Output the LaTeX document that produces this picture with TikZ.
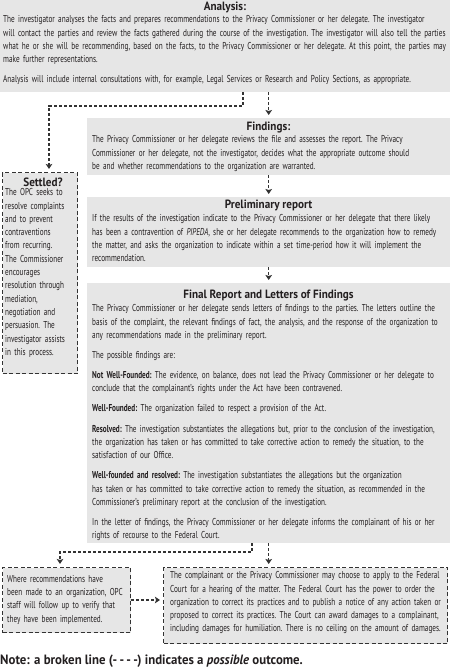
\documentclass[tikz,border=0pt]{standalone}
\usepackage{fontspec}
\setmainfont[FakeStretch=0.72]{PT Sans}
\newfontfamily\widef[FakeStretch=0.725]{PT Sans}
\newfontfamily\titlef[FakeStretch=0.93]{PT Sans}
\newfontfamily\notef[FakeStretch=0.95]{PT Sans}
\usetikzlibrary{arrows.meta,calc}
\definecolor{boxgray}{HTML}{E6E6E6}
\definecolor{ink}{HTML}{231F20}
\definecolor{dashc}{HTML}{333333}
\tikzset{
  gbox/.style={rectangle, fill=boxgray, draw=none, inner sep=0pt, anchor=north west},
  dbox/.style={gbox, draw=dashc, line width=1.1pt, dash pattern=on 4pt off 2.5pt},
  bodytxt/.style={anchor=north west, inner sep=0pt, text width=600pt, align=left, font=\frenchspacing\fontsize{10}{13.3}\selectfont, text=ink},
  widetxt/.style={bodytxt, font=\widef\frenchspacing\fontsize{10}{13.3}\selectfont},
  ttl/.style={anchor=base, inner sep=0pt, font=\titlef\bfseries\fontsize{12}{14}\selectfont, text=ink},
  conn/.style={draw=dashc, line width=1.1pt, dash pattern=on 3pt off 2pt},
  arr/.style={conn, -{Stealth[length=5pt,width=6.5pt,inset=1pt]}, shorten >=3pt},
}
\begin{document}
\begin{tikzpicture}[x=1pt,y=-1pt]
\useasboundingbox (0,0) rectangle (450,667);
% boxes
\node[gbox, minimum width=450pt, minimum height=92pt] (analysis) at (0,0) {};
\node[gbox, minimum width=363pt, minimum height=57pt] (findings) at (87,118) {};
\node[gbox, minimum width=363pt, minimum height=70pt] (prelim) at (87,197) {};
\node[gbox, minimum width=363pt, minimum height=260pt] (final) at (87,283) {};
\node[dbox, minimum width=75pt, minimum height=201pt] (settled) at (2,172) {};
\node[dbox, minimum width=128pt, minimum height=65pt] (leftb) at (2,567) {};
\node[dbox, minimum width=284pt, minimum height=76pt] (rightb) at (163,567) {};
% titles
\node[ttl] (tA) at (225,10) {Analysis:};
\node[ttl] (tF) at (268.5,130.5) {Findings:};
\node[ttl] (tP) at (268.5,208.5) {Preliminary report};
\node[ttl] (tR) at (268.5,298.5) {Final Report and Letters of Findings};
\node[ttl] (tS) at (43,186) {Settled?};
% bodies
\node[widetxt] (bA) at (3,13.2) {\strut The investigator analyses the facts and prepares recommendations to the Privacy Commissioner or her delegate. The investigator\\
will contact the parties and review the facts gathered during the course of the investigation. The investigator will also tell the parties\\
what he or she will be recommending, based on the facts, to the Privacy Commissioner or her delegate. At this point, the parties may\\
make further representations.\\[6.8pt]
Analysis will include internal consultations with, for example, Legal Services or Research and Policy Sections, as appropriate.};
\node[bodytxt] (bF) at (92,133.2) {\strut The Privacy Commissioner or her delegate reviews the file and assesses the report. The Privacy\\
Commissioner or her delegate, not the investigator, decides what the appropriate outcome should\\
be and whether recommendations to the organization are warranted.};
\node[bodytxt] (bP) at (92,212.2) {\strut If the results of the investigation indicate to the Privacy Commissioner or her delegate that there likely\\
has been a contravention of \textit{PIPEDA}, she or her delegate recommends to the organization how to remedy\\
the matter, and asks the organization to indicate within a set time-period how it will implement the\\
recommendation.};
\node[bodytxt] (bR) at (92,302.2) {\strut The Privacy Commissioner or her delegate sends letters of findings to the parties. The letters outline the\\
basis of the complaint, the relevant findings of fact, the analysis, and the response of the organization to\\
any recommendations made in the preliminary report.\\[6.8pt]
The possible findings are:\\[6.8pt]
\textbf{Not Well-Founded:} The evidence, on balance, does not lead the Privacy Commissioner or her delegate to\\
conclude that the complainant’s rights under the Act have been contravened.\\[6.8pt]
\textbf{Well-Founded:} The organization failed to respect a provision of the Act.\\[6.8pt]
\textbf{Resolved:} The investigation substantiates the allegations but, prior to the conclusion of the investigation,\\
the organization has taken or has committed to take corrective action to remedy the situation, to the\\
satisfaction of our Office.\\[6.8pt]
\textbf{Well-founded and resolved:} The investigation substantiates the allegations but the organization\\
has taken or has committed to take corrective action to remedy the situation, as recommended in the\\
Commissioner’s preliminary report at the conclusion of the investigation.\\[6.8pt]
In the letter of findings, the Privacy Commissioner or her delegate informs the complainant of his or her\\
rights of recourse to the Federal Court.};
\node[bodytxt] (bS) at (5,186.2) {\strut The OPC seeks to\\ resolve complaints\\ and to prevent\\ contraventions\\ from recurring.\\ The Commissioner\\ encourages\\ resolution through\\ mediation,\\ negotiation and\\ persuasion. The\\ investigator assists\\ in this process.};
\node[bodytxt] (bL) at (7,572.7) {\strut Where recommendations have\\ been made to an organization, OPC\\ staff will follow up to verify that\\ they have been implemented.};
\node[widetxt] (bRt) at (170,569.2) {\strut The complainant or the Privacy Commissioner may choose to apply to the Federal\\
Court for a hearing of the matter. The Federal Court has the power to order the\\
organization to correct its practices and to publish a notice of any action taken or\\
proposed to correct its practices. The Court can award damages to a complainant,\\
including damages for humiliation. There is no ceiling on the amount of damages.};
\node[anchor=base west, inner sep=0pt, font=\notef\bfseries\fontsize{13.5}{16}\selectfont, text=ink] (note) at (0,664) {Note: a broken line (-\,-\,-\,-) indicates a \textit{possible} outcome.};
% connectors
\coordinate (k1) at (243,106);
\coordinate (k2) at (49,106);
\draw[arr] (analysis.south -| k1) -- (k1) -- (k2) -- (k2 |- settled.north);
\draw[arr] (findings.north |- analysis.south) -- (findings.north);
\draw[arr] (prelim.north |- findings.south) -- (prelim.north);
\draw[arr] (final.north |- prelim.south) -- (final.north);
\coordinate (k3) at (252,552);
\coordinate (k4) at (60,552);
\draw[arr] (final.south -| k3) -- (k3) -- (k4) -- (k4 |- leftb.north);
\draw[arr] (final.south) -- (final.south |- rightb.north);
\coordinate (k5) at (0,600);
\draw[arr] (leftb.east |- k5) -- (rightb.west |- k5);
\end{tikzpicture}
\end{document}
